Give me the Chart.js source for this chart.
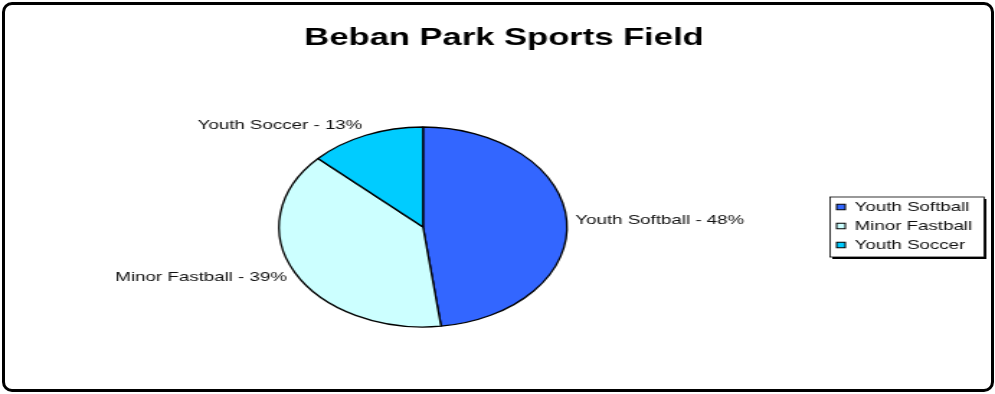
<!DOCTYPE html>
<html>
<head>
<meta charset="utf-8">
<script src="https://cdn.jsdelivr.net/npm/chart.js@4/dist/chart.umd.min.js"></script>
<style>
  html, body { margin: 0; padding: 0; background: #fff; }
  #wrap { position: relative; width: 995px; height: 394px; overflow: hidden; }
  #c { position: absolute; left: 0; top: 0; }
  #frame { position: absolute; left: 2px; top: 2px; width: 992px; height: 390px; box-sizing: border-box;
           border: 3px solid #000; border-radius: 10px; pointer-events: none; }
</style>
</head>
<body>
<div id="wrap">
  <canvas id="c" width="691" height="394" style="width:995px;height:394px;"></canvas>
  <div id="frame"></div>
</div>
<script>
const chartTitle = 'Beban Park Sports Field';
const categories = ['Youth Softball', 'Minor Fastball', 'Youth Soccer'];
const values = [48, 39, 13];
const sliceColors = ['#3366FF', '#CCFFFF', '#00CCFF'];

const FONT = '"Liberation Sans", Arial, Helvetica, sans-serif';

const decor = {
  id: 'decor',
  afterDraw(chart) {
    const ctx = chart.ctx;
    const ds = chart.data.datasets[0];
    const total = ds.data.reduce((a, b) => a + b, 0);
    ctx.save();
    // title
    ctx.fillStyle = '#000';
    ctx.font = 'bold 24px ' + FONT;
    ctx.textAlign = 'center';
    ctx.textBaseline = 'alphabetic';
    ctx.fillText(chartTitle, 350, 45);

    // data labels
    ctx.font = '13px ' + FONT;
    ctx.textBaseline = 'middle';
    ctx.fillStyle = '#111';
    const meta = chart.getDatasetMeta(0);
    meta.data.forEach((arc, i) => {
      const mid = (arc.startAngle + arc.endAngle) / 2;
      const c = Math.cos(mid), s = Math.sin(mid);
      const r = arc.outerRadius + 6;
      const x = arc.x + r * c;
      const y = arc.y + r * s + s * 5;
      ctx.textAlign = c > 0 ? 'left' : 'right';
      const pct = Math.round(ds.data[i] / total * 100);
      ctx.fillText(chart.data.labels[i] + ' - ' + pct + '%', x, y);
    });

    // legend box
    const lx = 576.5, ly = 197, lw = 107, lh = 60;
    ctx.fillStyle = '#000';
    ctx.fillRect(lx + 1.5, ly + 2, lw, lh);
    ctx.fillStyle = '#fff';
    ctx.fillRect(lx, ly, lw, lh);
    ctx.strokeStyle = '#000';
    ctx.lineWidth = 0.8;
    ctx.strokeRect(lx, ly, lw, lh);
    ctx.font = '13px ' + FONT;
    ctx.textAlign = 'left';
    ctx.textBaseline = 'middle';
    chart.data.labels.forEach((lab, i) => {
      const cy = 207 + i * 19;
      ctx.fillStyle = ds.backgroundColor[i];
      ctx.fillRect(581, cy - 2.75, 6, 5.5);
      ctx.strokeStyle = '#000';
      ctx.lineWidth = 1;
      ctx.strokeRect(581, cy - 2.75, 6, 5.5);
      ctx.fillStyle = '#111';
      ctx.fillText(lab, 593.5, cy);
    });
    ctx.restore();
  }
};

new Chart(document.getElementById('c'), {
  type: 'pie',
  data: {
    labels: categories,
    datasets: [{
      data: values,
      backgroundColor: sliceColors,
      borderColor: '#000',
      borderWidth: 1.3
    }]
  },
  options: {
    responsive: false,
    animation: false,
    devicePixelRatio: 1,
    radius: 100,
    layout: { padding: { left: 193.75, right: 297.25, top: 127, bottom: 67 } },
    plugins: {
      legend: { display: false },
      title: { display: false },
      tooltip: { enabled: false }
    },
    events: []
  },
  plugins: [decor]
});
</script>
</body>
</html>
